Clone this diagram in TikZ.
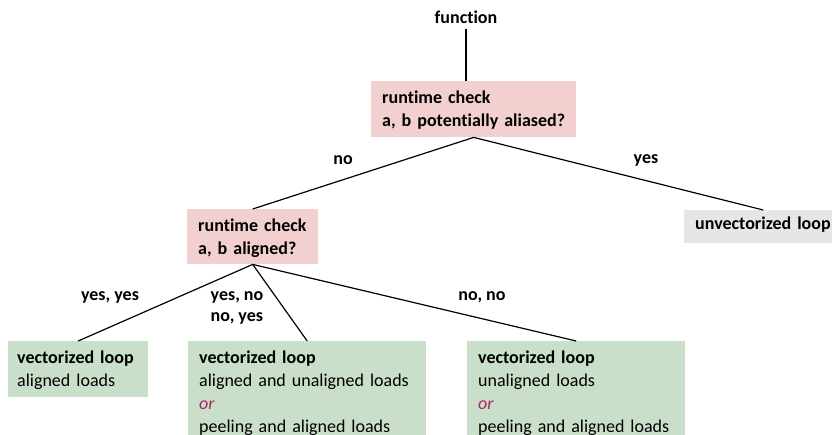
\documentclass[tikz,border=0pt]{standalone}
\usepackage{fontspec}
\setmainfont[Ligatures=NoCommon]{Carlito}
\definecolor{pinkbox}{RGB}{242,208,208}
\definecolor{greenbox}{RGB}{201,223,201}
\definecolor{graybox}{RGB}{230,230,230}
\definecolor{orcol}{RGB}{170,40,100}
\begin{document}
\begin{tikzpicture}[x=1pt,y=-1pt,
  every node/.style={font=\fontsize{18}{22.5}\selectfont},
  box/.style={anchor=north west, align=left, inner sep=0pt},
  txt/.style={anchor=north west, align=left, inner sep=0pt, font=\fontsize{18}{23}\selectfont},
  lbl/.style={font=\fontsize{18}{21}\selectfont\bfseries, align=left},
  conn/.style={line width=1.2pt}]
\clip (0,0) rectangle (832,435);
\fill[white] (0,0) rectangle (832,435);
\node[lbl] (fn) at (466,17) {function};
\node[box, fill=pinkbox, minimum width=205pt, minimum height=56pt] (b1) at (371,81) {};
\node[txt, text width=190pt] (t1) at (382,91)
  {\textbf{runtime check}\\\textbf{a, b potentially aliased?}};
\node[box, fill=pinkbox, minimum width=131pt, minimum height=55pt] (b2) at (187,209) {};
\node[txt, text width=120pt] (tb2) at (198,219)
  {\textbf{runtime check}\\\textbf{a, b aligned?}};
\node[box, fill=graybox, minimum width=158pt, minimum height=33pt] (u) at (684,210) {};
\node[txt, text width=150pt] (tu) at (695,217) {\textbf{unvectorized loop}};
\node[box, fill=greenbox, minimum width=140pt, minimum height=56pt] (v1) at (8,341) {};
\node[txt, text width=130pt] (t1b) at (17,351)
  {\textbf{vectorized loop}\\aligned loads};
\node[box, fill=greenbox, minimum width=238pt, minimum height=110pt] (v2) at (188,341) {};
\node[txt, text width=226pt] (t2) at (199,351)
  {\textbf{vectorized loop}\\aligned and unaligned loads\\\textcolor{orcol}{\itshape or}\\peeling and aligned loads};
\node[box, fill=greenbox, minimum width=218pt, minimum height=110pt] (v3) at (467,341) {};
\node[txt, text width=206pt] (t3) at (478,351)
  {\textbf{vectorized loop}\\unaligned loads\\\textcolor{orcol}{\itshape or}\\peeling and aligned loads};
\draw[conn] (fn.south) ++(0,2) coordinate (fs) -- (fs |- b1.north);
\draw[conn] (b1.south) -- (b2.north);
\draw[conn] (b1.south) -- (u.north);
\draw[conn] (b2.south) -- (v1.north);
\draw[conn] (b2.south) -- (v2.north);
\draw[conn] (b2.south) -- (v3.north);
\node[lbl] (lno) at (343,160) {no};
\node[lbl] (lyes) at (646,160) {yes};
\node[lbl] (lyy) at (110,297) {yes, yes};
\node[lbl] (lyn) at (237,308) {yes, no\\no, yes};
\node[lbl] (lnn) at (482,297) {no, no};
\end{tikzpicture}
\end{document}
